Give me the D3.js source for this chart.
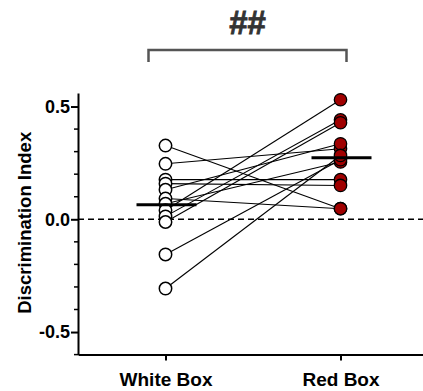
<!DOCTYPE html>
<html>
<head>
<meta charset="utf-8">
<script src="https://cdn.jsdelivr.net/npm/d3@7"></script>
<style>
  html, body { margin: 0; padding: 0; background: #fff; }
  svg { display: block; }
  text { font-family: "Liberation Sans", Arial, sans-serif; font-weight: bold; }
</style>
</head>
<body>
<div id="chart"></div>
<script>
// ---- data ----
const categories = ["White Box", "Red Box"];
const whiteBox = [0.327, 0.246, 0.176, 0.158, 0.131, 0.092, 0.069, 0.040, 0.013, -0.012, -0.156, -0.307];
const redBox   = [0.047, 0.313, 0.176, 0.150, 0.335, 0.047, 0.254, 0.530, 0.441, 0.428, 0.264, 0.283];
const yTickValues = [-0.5, 0.0, 0.5];
const yTickLabels = ["-0.5", "0.0", "0.5"];
const yMinorTicks = [-0.6, -0.4, -0.3, -0.2, -0.1, 0.1, 0.2, 0.3, 0.4];
const significance = "##";
const yTitle = "Discrimination Index";

// ---- layout ----
const W = 423, H = 391;
const svg = d3.select("#chart").append("svg").attr("width", W).attr("height", H);

const x = d3.scalePoint().domain(categories).range([78, 428]).padding(0.5);
const y = d3.scaleLinear().domain([-0.6, 0.56]).range([354.6, 93]);

// zero dashed line
svg.append("line")
  .attr("x1", 78).attr("x2", W)
  .attr("y1", y(0)).attr("y2", y(0))
  .attr("stroke", "#000").attr("stroke-width", 1.5)
  .attr("stroke-dasharray", "6,4");

// connecting lines
const pairs = whiteBox.map((w, i) => ({ w, r: redBox[i] }));
svg.append("g").selectAll("line").data(pairs).join("line")
  .attr("x1", x(categories[0])).attr("y1", d => y(d.w))
  .attr("x2", x(categories[1])).attr("y2", d => y(d.r))
  .attr("stroke", "#000").attr("stroke-width", 1.1);

// points
svg.append("g").selectAll("circle").data(whiteBox).join("circle")
  .attr("cx", x(categories[0])).attr("cy", d => y(d)).attr("r", 6.2)
  .attr("fill", "#fff").attr("stroke", "#000").attr("stroke-width", 1.5);
svg.append("g").selectAll("circle").data(redBox).join("circle")
  .attr("cx", x(categories[1])).attr("cy", d => y(d)).attr("r", 6.2)
  .attr("fill", "#a00000").attr("stroke", "#000").attr("stroke-width", 1.3);

// mean lines
[[categories[0], whiteBox], [categories[1], redBox]].forEach(([c, vals]) => {
  const m = d3.mean(vals);
  svg.append("line")
    .attr("x1", x(c) - 29).attr("x2", x(c) + 31)
    .attr("y1", y(m)).attr("y2", y(m))
    .attr("stroke", "#000").attr("stroke-width", 3);
});

// y axis
const yAxis = svg.append("g").attr("transform", "translate(78,0)")
  .call(d3.axisLeft(y).tickValues(yTickValues)
    .tickFormat((d, i) => yTickLabels[i]).tickSize(7).tickSizeOuter(0));
yAxis.select(".domain").attr("stroke-width", 2);
yAxis.selectAll(".tick line").attr("stroke-width", 2);
yAxis.selectAll(".tick text").attr("font-size", 18).attr("fill", "#000").attr("x", -8);
svg.append("g").selectAll("line").data(yMinorTicks).join("line")
  .attr("x1", 74).attr("x2", 78).attr("y1", d => y(d)).attr("y2", d => y(d))
  .attr("stroke", "#000").attr("stroke-width", 1.5);

// x axis
const xAxis = svg.append("g").attr("transform", `translate(0,${y(-0.6)})`)
  .call(d3.axisBottom(x).tickSize(6).tickSizeOuter(0));
xAxis.select(".domain").attr("stroke-width", 2);
xAxis.selectAll(".tick line").attr("stroke-width", 2);
xAxis.selectAll(".tick text").attr("font-size", 19).attr("fill", "#000").attr("dy", "1.2em");

// y title
svg.append("text")
  .attr("transform", `translate(31,${(y(0.56) + y(-0.6)) / 2 - 1}) rotate(-90)`)
  .attr("text-anchor", "middle").attr("font-size", 18.5).attr("fill", "#000")
  .text(yTitle);

// significance bracket
const bx1 = x(categories[0]) - 17, bx2 = x(categories[1]) + 6;
svg.append("path")
  .attr("d", `M${bx1},62 V50 H${bx2} V62`)
  .attr("fill", "none").attr("stroke", "#555").attr("stroke-width", 2.5);
svg.append("text")
  .attr("x", (bx1 + bx2) / 2).attr("y", 34)
  .attr("text-anchor", "middle").attr("font-size", 33).attr("fill", "#333")
  .attr("stroke", "#333").attr("stroke-width", 0.8)
  .text(significance);
</script>
</body>
</html>
